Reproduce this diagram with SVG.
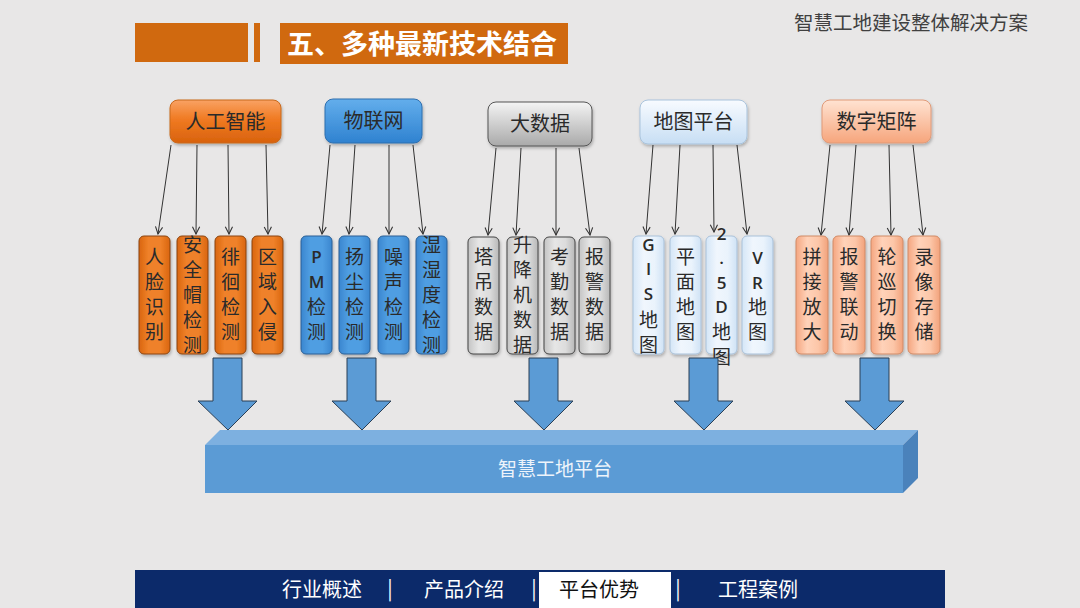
<svg xmlns="http://www.w3.org/2000/svg" width="1080" height="608" viewBox="0 0 1080 608">
<defs>
<linearGradient id="gAI" x1="0" y1="0" x2="0" y2="1"><stop offset="0" stop-color="#f9a263"/><stop offset="0.45" stop-color="#f07a22"/><stop offset="1" stop-color="#d8620d"/></linearGradient>
<linearGradient id="gAIc" x1="0" y1="0" x2="1" y2="0"><stop offset="0" stop-color="#d9650f"/><stop offset="0.3" stop-color="#ef8129"/><stop offset="0.7" stop-color="#ef8129"/><stop offset="1" stop-color="#d9650f"/></linearGradient>
<linearGradient id="gIoT" x1="0" y1="0" x2="0" y2="1"><stop offset="0" stop-color="#63aeec"/><stop offset="1" stop-color="#2f82d0"/></linearGradient>
<linearGradient id="gIoTc" x1="0" y1="0" x2="1" y2="0"><stop offset="0" stop-color="#3a86cf"/><stop offset="0.3" stop-color="#4f9ee2"/><stop offset="0.7" stop-color="#4f9ee2"/><stop offset="1" stop-color="#3a86cf"/></linearGradient>
<linearGradient id="gBD" x1="0" y1="0" x2="0" y2="1"><stop offset="0" stop-color="#f4f4f4"/><stop offset="1" stop-color="#a9a9a9"/></linearGradient>
<linearGradient id="gBDc" x1="0" y1="0" x2="1" y2="0"><stop offset="0" stop-color="#c4c4c4"/><stop offset="0.35" stop-color="#e6e6e6"/><stop offset="0.7" stop-color="#dcdcdc"/><stop offset="1" stop-color="#b8b8b8"/></linearGradient>
<linearGradient id="gMap" x1="0" y1="0" x2="0" y2="1"><stop offset="0" stop-color="#f8fbff"/><stop offset="1" stop-color="#c7def4"/></linearGradient>
<linearGradient id="gMapc" x1="0" y1="0" x2="1" y2="0"><stop offset="0" stop-color="#d4e6f7"/><stop offset="0.35" stop-color="#f0f6fd"/><stop offset="0.7" stop-color="#eaf3fc"/><stop offset="1" stop-color="#cfe2f5"/></linearGradient>
<linearGradient id="gMx" x1="0" y1="0" x2="0" y2="1"><stop offset="0" stop-color="#ffe3d2"/><stop offset="1" stop-color="#f6a57c"/></linearGradient>
<linearGradient id="gMxc" x1="0" y1="0" x2="1" y2="0"><stop offset="0" stop-color="#f5a680"/><stop offset="0.35" stop-color="#ffd2b9"/><stop offset="0.7" stop-color="#fcc6a8"/><stop offset="1" stop-color="#f2a27b"/></linearGradient>
<filter id="sh" x="-20%" y="-20%" width="140%" height="140%"><feDropShadow dx="1" dy="2" stdDeviation="1.5" flood-color="#000" flood-opacity="0.25"/></filter>
<marker id="ah" viewBox="0 0 10 10" refX="9" refY="5" markerWidth="9" markerHeight="9" orient="auto" markerUnits="userSpaceOnUse"><path d="M1,1 L9,5 L1,9" fill="none" stroke="#333" stroke-width="1.2"/></marker>
</defs>
<style>
.cat{font-family:"Noto Sans CJK SC","Noto Sans",sans-serif;font-size:20px;fill:#2a2a2a;text-anchor:middle}
.ch{font-family:"Noto Sans CJK SC","Noto Sans",sans-serif;font-size:19px;fill:#2a2a2a;text-anchor:middle}
.lat{font-family:"Open Sans","Noto Sans",sans-serif;font-weight:600;font-size:17px}
.lnk{stroke:#333;stroke-width:1;fill:none;marker-end:url(#ah)}
.barr{fill:#5b9bd5;stroke:#2a3f55;stroke-width:1}
.nav{font-family:"Noto Sans CJK SC","Noto Sans",sans-serif;font-size:20px;fill:#fff;text-anchor:middle}
</style>
<rect width="1080" height="608" fill="#e8e7e7"/>
<g id="header">
<rect x="135" y="23" width="113" height="39" fill="#d0690f"/>
<rect x="254" y="23" width="6" height="39" fill="#d0690f"/>
<rect x="280" y="23" width="288" height="41" fill="#d0690f"/>
<text x="422" y="54" font-family="Noto Sans CJK SC, Noto Sans, sans-serif" font-size="27" font-weight="bold" fill="#fff" text-anchor="middle">五、多种最新技术结合</text>
<text x="911" y="30" font-family="Noto Sans CJK SC, Noto Sans, sans-serif" font-size="19.5" fill="#404040" text-anchor="middle">智慧工地建设整体解决方案</text>
</g>
<g id="connectors">
<line class="lnk" x1="171" y1="145" x2="158" y2="234"/>
<line class="lnk" x1="197" y1="145" x2="196" y2="234"/>
<line class="lnk" x1="228" y1="145" x2="229" y2="234"/>
<line class="lnk" x1="266" y1="145" x2="268" y2="234"/>
<line class="lnk" x1="330" y1="145" x2="322" y2="234"/>
<line class="lnk" x1="355" y1="145" x2="349" y2="234"/>
<line class="lnk" x1="389" y1="145" x2="389" y2="234"/>
<line class="lnk" x1="413" y1="145" x2="423" y2="234"/>
<line class="lnk" x1="496" y1="148" x2="488" y2="235"/>
<line class="lnk" x1="521" y1="148" x2="516" y2="235"/>
<line class="lnk" x1="556" y1="148" x2="556" y2="235"/>
<line class="lnk" x1="579" y1="148" x2="590" y2="235"/>
<line class="lnk" x1="653" y1="145" x2="646" y2="234"/>
<line class="lnk" x1="680" y1="145" x2="675" y2="234"/>
<line class="lnk" x1="713" y1="145" x2="714" y2="232"/>
<line class="lnk" x1="737" y1="145" x2="747" y2="234"/>
<line class="lnk" x1="830" y1="145" x2="821" y2="235"/>
<line class="lnk" x1="856" y1="145" x2="849" y2="235"/>
<line class="lnk" x1="889" y1="145" x2="891" y2="235"/>
<line class="lnk" x1="913" y1="145" x2="923" y2="235"/>
</g>
<g id="cat-ai"><rect x="170" y="100" width="111" height="43" rx="8" fill="url(#gAI)" stroke="#c8691c" filter="url(#sh)"/><text class="cat" x="225.5" y="129">人工智能</text></g>
<g id="cat-iot"><rect x="325" y="99" width="97" height="44" rx="8" fill="url(#gIoT)" stroke="#2f6fae" filter="url(#sh)"/><text class="cat" x="373.5" y="128">物联网</text></g>
<g id="cat-bd"><rect x="488" y="102" width="104" height="44" rx="8" fill="url(#gBD)" stroke="#555" filter="url(#sh)"/><text class="cat" x="540" y="131">大数据</text></g>
<g id="cat-map"><rect x="640" y="100" width="107" height="44" rx="8" fill="url(#gMap)" stroke="#a9c3dc" filter="url(#sh)"/><text class="cat" x="693.5" y="129">地图平台</text></g>
<g id="cat-mx"><rect x="822" y="100" width="109" height="43" rx="8" fill="url(#gMx)" stroke="#e09a78" filter="url(#sh)"/><text class="cat" x="876.5" y="129">数字矩阵</text></g>

<g id="ai-1"><rect x="139" y="236" width="31" height="118" rx="5" fill="url(#gAIc)" stroke="#8a4510" filter="url(#sh)"/><text class="ch"><tspan x="154.5" y="264">人</tspan><tspan x="154.5" y="289">脸</tspan><tspan x="154.5" y="314">识</tspan><tspan x="154.5" y="339">别</tspan></text></g>
<g id="ai-2"><rect x="177" y="236" width="31" height="118" rx="5" fill="url(#gAIc)" stroke="#8a4510" filter="url(#sh)"/><text class="ch"><tspan x="192.5" y="252">安</tspan><tspan x="192.5" y="277">全</tspan><tspan x="192.5" y="302">帽</tspan><tspan x="192.5" y="327">检</tspan><tspan x="192.5" y="352">测</tspan></text></g>
<g id="ai-3"><rect x="215" y="236" width="31" height="118" rx="5" fill="url(#gAIc)" stroke="#8a4510" filter="url(#sh)"/><text class="ch"><tspan x="230.5" y="264">徘</tspan><tspan x="230.5" y="289">徊</tspan><tspan x="230.5" y="314">检</tspan><tspan x="230.5" y="339">测</tspan></text></g>
<g id="ai-4"><rect x="252" y="236" width="31" height="118" rx="5" fill="url(#gAIc)" stroke="#8a4510" filter="url(#sh)"/><text class="ch"><tspan x="267.5" y="264">区</tspan><tspan x="267.5" y="289">域</tspan><tspan x="267.5" y="314">入</tspan><tspan x="267.5" y="339">侵</tspan></text></g>

<g id="iot-1"><rect x="301" y="236" width="31" height="118" rx="5" fill="url(#gIoTc)" stroke="#2a5f95" filter="url(#sh)"/><text class="ch"><tspan class="lat" x="316.5" y="263">P</tspan><tspan class="lat" x="316.5" y="288">M</tspan><tspan x="316.5" y="314">检</tspan><tspan x="316.5" y="339">测</tspan></text></g>
<g id="iot-2"><rect x="339" y="236" width="31" height="118" rx="5" fill="url(#gIoTc)" stroke="#2a5f95" filter="url(#sh)"/><text class="ch"><tspan x="354.5" y="264">扬</tspan><tspan x="354.5" y="289">尘</tspan><tspan x="354.5" y="314">检</tspan><tspan x="354.5" y="339">测</tspan></text></g>
<g id="iot-3"><rect x="378" y="236" width="31" height="118" rx="5" fill="url(#gIoTc)" stroke="#2a5f95" filter="url(#sh)"/><text class="ch"><tspan x="393.5" y="264">噪</tspan><tspan x="393.5" y="289">声</tspan><tspan x="393.5" y="314">检</tspan><tspan x="393.5" y="339">测</tspan></text></g>
<g id="iot-4"><rect x="416" y="236" width="31" height="118" rx="5" fill="url(#gIoTc)" stroke="#2a5f95" filter="url(#sh)"/><text class="ch"><tspan x="431.5" y="252">湿</tspan><tspan x="431.5" y="277">湿</tspan><tspan x="431.5" y="302">度</tspan><tspan x="431.5" y="327">检</tspan><tspan x="431.5" y="352">测</tspan></text></g>

<g id="bd-1"><rect x="468" y="237" width="31" height="117" rx="5" fill="url(#gBDc)" stroke="#444" filter="url(#sh)"/><text class="ch"><tspan x="483.5" y="264">塔</tspan><tspan x="483.5" y="289">吊</tspan><tspan x="483.5" y="314">数</tspan><tspan x="483.5" y="339">据</tspan></text></g>
<g id="bd-2"><rect x="507" y="237" width="31" height="117" rx="5" fill="url(#gBDc)" stroke="#444" filter="url(#sh)"/><text class="ch"><tspan x="522.5" y="252">升</tspan><tspan x="522.5" y="277">降</tspan><tspan x="522.5" y="302">机</tspan><tspan x="522.5" y="327">数</tspan><tspan x="522.5" y="352">据</tspan></text></g>
<g id="bd-3"><rect x="544" y="237" width="31" height="117" rx="5" fill="url(#gBDc)" stroke="#444" filter="url(#sh)"/><text class="ch"><tspan x="559.5" y="264">考</tspan><tspan x="559.5" y="289">勤</tspan><tspan x="559.5" y="314">数</tspan><tspan x="559.5" y="339">据</tspan></text></g>
<g id="bd-4"><rect x="579" y="237" width="31" height="117" rx="5" fill="url(#gBDc)" stroke="#444" filter="url(#sh)"/><text class="ch"><tspan x="594.5" y="264">报</tspan><tspan x="594.5" y="289">警</tspan><tspan x="594.5" y="314">数</tspan><tspan x="594.5" y="339">据</tspan></text></g>

<g id="map-1"><rect x="633" y="236" width="31" height="118" rx="5" fill="url(#gMapc)" stroke="#a9c1d9" filter="url(#sh)"/><text class="ch"><tspan class="lat" x="648.5" y="251">G</tspan><tspan class="lat" x="648.5" y="275">I</tspan><tspan class="lat" x="648.5" y="300">S</tspan><tspan x="648.5" y="327">地</tspan><tspan x="648.5" y="352">图</tspan></text></g>
<g id="map-2"><rect x="670" y="236" width="31" height="118" rx="5" fill="url(#gMapc)" stroke="#a9c1d9" filter="url(#sh)"/><text class="ch"><tspan x="685.5" y="264">平</tspan><tspan x="685.5" y="289">面</tspan><tspan x="685.5" y="314">地</tspan><tspan x="685.5" y="339">图</tspan></text></g>
<g id="map-3"><rect x="706" y="236" width="31" height="118" rx="5" fill="url(#gMapc)" stroke="#a9c1d9" filter="url(#sh)"/><text class="ch"><tspan class="lat" x="721.5" y="240">2</tspan><tspan class="lat" x="721.5" y="264">.</tspan><tspan class="lat" x="721.5" y="289">5</tspan><tspan class="lat" x="721.5" y="313">D</tspan><tspan x="721.5" y="339">地</tspan><tspan x="721.5" y="364">图</tspan></text></g>
<g id="map-4"><rect x="742" y="236" width="31" height="118" rx="5" fill="url(#gMapc)" stroke="#a9c1d9" filter="url(#sh)"/><text class="ch"><tspan class="lat" x="757.5" y="264">V</tspan><tspan class="lat" x="757.5" y="289">R</tspan><tspan x="757.5" y="314">地</tspan><tspan x="757.5" y="339">图</tspan></text></g>

<g id="mx-1"><rect x="796" y="236" width="32" height="118" rx="5" fill="url(#gMxc)" stroke="#d08a66" filter="url(#sh)"/><text class="ch"><tspan x="812" y="264">拼</tspan><tspan x="812" y="289">接</tspan><tspan x="812" y="314">放</tspan><tspan x="812" y="339">大</tspan></text></g>
<g id="mx-2"><rect x="833" y="236" width="32" height="118" rx="5" fill="url(#gMxc)" stroke="#d08a66" filter="url(#sh)"/><text class="ch"><tspan x="849" y="264">报</tspan><tspan x="849" y="289">警</tspan><tspan x="849" y="314">联</tspan><tspan x="849" y="339">动</tspan></text></g>
<g id="mx-3"><rect x="871" y="236" width="32" height="118" rx="5" fill="url(#gMxc)" stroke="#d08a66" filter="url(#sh)"/><text class="ch"><tspan x="887" y="264">轮</tspan><tspan x="887" y="289">巡</tspan><tspan x="887" y="314">切</tspan><tspan x="887" y="339">换</tspan></text></g>
<g id="mx-4"><rect x="908" y="236" width="32" height="118" rx="5" fill="url(#gMxc)" stroke="#d08a66" filter="url(#sh)"/><text class="ch"><tspan x="924" y="264">录</tspan><tspan x="924" y="289">像</tspan><tspan x="924" y="314">存</tspan><tspan x="924" y="339">储</tspan></text></g>

<g id="platform">
<polygon points="205,445 220,430 918,430 903,445" fill="#7db0e0"/>
<polygon points="903,445 918,430 918,478 903,493" fill="#4a82bb"/>
<rect x="205" y="445" width="698" height="48" fill="#5b9bd5"/>
<text x="555" y="476" font-family="Noto Sans CJK SC, Noto Sans, sans-serif" font-size="19" fill="#eef4fb" text-anchor="middle">智慧工地平台</text>
</g>
<g id="block-arrows">
<polygon class="barr" points="213,358 242,358 242,401 257,401 228,430 198,401 213,401"/>
<polygon class="barr" points="347,358 376,358 376,401 391,401 362,430 332,401 347,401"/>
<polygon class="barr" points="529,358 558,358 558,401 573,401 544,430 514,401 529,401"/>
<polygon class="barr" points="689,358 718,358 718,401 733,401 704,430 674,401 689,401"/>
<polygon class="barr" points="860,358 889,358 889,401 904,401 875,430 845,401 860,401"/>
</g>
<g id="nav">
<rect x="135" y="570" width="810" height="38" fill="#0c2a6a"/>
<rect x="539" y="572" width="132" height="36" fill="#fff"/>
<text class="nav" x="322" y="597">行业概述</text>
<text class="nav" x="390" y="596">|</text>
<text class="nav" x="464" y="597">产品介绍</text>
<text class="nav" x="534" y="596">|</text>
<text class="nav" x="599" y="597" style="fill:#111">平台优势</text>
<text class="nav" x="678" y="596">|</text>
<text class="nav" x="758" y="597">工程案例</text>
</g>
</svg>
